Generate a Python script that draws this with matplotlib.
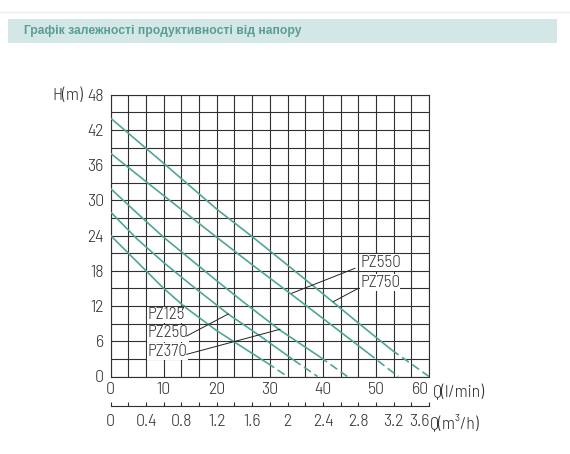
import numpy as np
import matplotlib
matplotlib.use("Agg")
import matplotlib.pyplot as plt
from matplotlib.patches import Rectangle

# ---------------- data ----------------
models = ["PZ125", "PZ250", "PZ370", "PZ550", "PZ750"]
# flow (l/min) / head (m) points; last segment is drawn dashed
q_pz125 = [0, 5, 10, 13.9, 20, 25, 29.5, 33.3]
h_pz125 = [24, 19.5, 15, 11.9, 7.8, 4.9, 2.3, 0]
q_pz250 = [0, 5, 10, 15, 22.2, 28, 34.5, 39]
h_pz250 = [28, 23.4, 19.4, 15.7, 10.6, 7.0, 2.8, 0]
q_pz370 = [0, 5, 10, 15, 20, 25, 31.9, 39.5, 44.6]
h_pz370 = [32, 27.8, 23.7, 20.0, 16.3, 12.7, 7.9, 3.3, 0]
q_pz550 = [0, 10, 20, 27, 34.2, 41, 48.5, 54.2]
h_pz550 = [38, 30.8, 23.7, 18.8, 13.9, 9.2, 4.0, 0]
q_pz750 = [0, 10, 20, 26.7, 33.3, 40, 46.7, 53, 60]
h_pz750 = [44, 36.3, 28.5, 23.8, 19.0, 14.1, 9.1, 4.5, 0]

series_q = [q_pz125, q_pz250, q_pz370, q_pz550, q_pz750]
series_h = [h_pz125, h_pz250, h_pz370, h_pz550, h_pz750]

h_ticks = [0, 6, 12, 18, 24, 30, 36, 42, 48]
q_lmin_ticks = [0, 10, 20, 30, 40, 50, 60]
q_m3h_ticks = [0, 0.4, 0.8, 1.2, 1.6, 2, 2.4, 2.8, 3.2, 3.6]
q_m3h_labels = ["0", "0.4", "0.8", "1.2", "1.6", "2", "2.4", "2.8", "3.2", "3.6"]

title = "Графік залежності продуктивності від напору"

# ---------------- style ----------------
FONT = ["Barlow Semi Condensed", "Barlow Condensed", "Liberation Sans Narrow", "DejaVu Sans"]
plt.rcParams["font.family"] = FONT
plt.rcParams["font.weight"] = 300
TXT = "#333333"
GRID = "#303030"
CURVE = "#4fa597"
FS = 12.8

W, H = 570, 454
fig = plt.figure(figsize=(W / 100, H / 100), dpi=100)
fig.patch.set_facecolor("white")

def fx(px):
    return px / W

def fy(py):
    return 1 - py / H

# title band
fig.add_artist(plt.Line2D([0, 1], [fy(12), fy(12)], color="#eeeeee", lw=1.0,
                          transform=fig.transFigure))
fig.add_artist(Rectangle((fx(8), fy(43)), fx(557) - fx(8), fy(19) - fy(43),
                         transform=fig.transFigure, facecolor="#d3e7e6",
                         edgecolor="none"))
fig.text(fx(24), fy(31), title, family=["Liberation Sans", "DejaVu Sans"],
         weight="bold", fontsize=8.7, color="#5a9d96", ha="left", va="center")

# main axes
L, R, T, B = 110.7, 429.0, 94.7, 376.5
ax = fig.add_axes([fx(L), fy(B), fx(R) - fx(L), fy(T) - fy(B)])
ax.set_xlim(0, 60)
ax.set_ylim(0, 48)
ax.set_xticks(q_lmin_ticks)
ax.set_xticklabels([str(v) for v in q_lmin_ticks])
ax.set_xticks(np.arange(0, 60.001, 10 / 3), minor=True)
ax.set_yticks(h_ticks)
ax.set_yticklabels([str(v) for v in h_ticks])
ax.set_yticks(np.arange(0, 48.001, 3), minor=True)
ax.grid(True, which="both", color=GRID, lw=0.8)
ax.tick_params(which="both", length=0, labelsize=FS, labelcolor=TXT)
ax.tick_params(axis="x", pad=4.0)
ax.tick_params(axis="y", pad=5.0)
for s in ax.spines.values():
    s.set_color(GRID)
    s.set_linewidth(0.8)
ax.xaxis.get_major_ticks()[-1].label1.set_horizontalalignment("right")
ax.set_axisbelow(True)

for q, h in zip(series_q, series_h):
    ax.plot(q[:-1], h[:-1], color=CURVE, lw=1.2, solid_capstyle="butt", zorder=3)
    ax.plot(q[-2:], h[-2:], color=CURVE, lw=1.2, ls=(0, (5, 2.5)), zorder=3)

# labels and leader lines (annotation layout)
ann_text = {
    "PZ125": (6.97, 10.5), "PZ250": (6.97, 7.36), "PZ370": (6.97, 4.22),
    "PZ550": (47.0, 19.4), "PZ750": (47.0, 16.0),
}
ann_lead = {
    "PZ125": ((13.5, 11.33), (13.87, 12.0)),
    "PZ250": ((14.33, 6.9), (22.17, 10.65)),
    "PZ370": ((14.33, 3.78), (31.91, 8.04)),
    "PZ550": ((46.05, 18.43), (34.12, 14.17)),
    "PZ750": ((46.67, 15.02), (41.96, 12.74)),
}
for m in models:
    x0, y0 = ann_text[m]
    ax.text(x0, y0, m, fontsize=12.2, color=TXT, ha="left", va="center",
            zorder=4, bbox=dict(facecolor="white", edgecolor="none", pad=0.2))
    (a, b), (c, d) = ann_lead[m]
    ax.plot([a, c], [b, d], color="#222222", lw=0.7, zorder=4)

fig.text(fx(83), fy(96), "H(m)", fontsize=FS, color=TXT, ha="right", va="center")
fig.text(fx(433), fy(393), "Q(l/min)", fontsize=FS, color=TXT, ha="left", va="center")

# second flow axis (m3/h)
AY = 406.0
ax2 = fig.add_axes([fx(L), fy(AY), fx(R) - fx(L), 0.01])
ax2.set_xlim(0, 3.6)
ax2.set_ylim(0, 1)
ax2.set_xticks(q_m3h_ticks)
ax2.set_xticklabels(q_m3h_labels)
ax2.set_xticks(np.arange(0, 3.6001, 0.2), minor=True)
ax2.set_yticks([])
for k in ["top", "left", "right"]:
    ax2.spines[k].set_visible(False)
ax2.spines["bottom"].set_color(GRID)
ax2.spines["bottom"].set_linewidth(0.8)
ax2.patch.set_alpha(0)
ax2.tick_params(axis="x", which="both", direction="in", length=3.0, width=0.8,
                color=GRID, labelsize=FS, labelcolor=TXT, pad=5.5)
ax2.xaxis.get_major_ticks()[-1].label1.set_horizontalalignment("right")
fig.text(fx(430), fy(423), "Q(m³/h)", fontsize=FS, color=TXT, ha="left", va="center")

fig.savefig("out.png", dpi=100, facecolor="white")
